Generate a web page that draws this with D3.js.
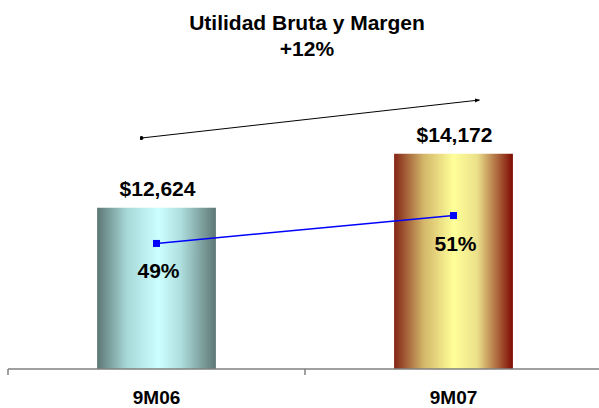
<!DOCTYPE html>
<html>
<head>
<meta charset="utf-8">
<script src="https://cdnjs.cloudflare.com/ajax/libs/d3/7.8.5/d3.min.js"></script>
<style>
  body { margin: 0; background: #fff; }
  text { font-family: Arial, "Liberation Sans", sans-serif; font-weight: bold; fill: #000; }
</style>
</head>
<body>
<script>
// chart data
var categories = ["9M06", "9M07"];
var utilidad = [12624, 14172];
var margen = [49, 51];
var valueLabels = ["$12,624", "$14,172"];
var margenLabels = ["49%", "51%"];
var titleLines = ["Utilidad Bruta y Margen", "+12%"];

var width = 599, height = 408;

var svg = d3.select("body").append("svg")
    .attr("width", width)
    .attr("height", height);

// gradients for the two bars
var defs = svg.append("defs");
var gradStops = [
  [["0%", "#5d7774"], ["25%", "#a6d8d8"], ["52%", "#ccffff"], ["70%", "#b0e0e0"], ["100%", "#5d7774"]],
  [["0%", "#842415"], ["25%", "#d3b76a"], ["50%", "#ffff99"], ["70%", "#ebe08a"], ["100%", "#7e0a02"]]
];
gradStops.forEach(function(stops, i) {
  var g = defs.append("linearGradient")
      .attr("id", "grad" + i)
      .attr("x1", "0%").attr("x2", "100%")
      .attr("y1", "0%").attr("y2", "0%");
  stops.forEach(function(s) {
    g.append("stop").attr("offset", s[0]).attr("stop-color", s[1]);
  });
});

// scales
var x = d3.scaleBand()
    .domain(categories)
    .range([8, 602]);

var y = d3.scaleLinear()
    .domain([8000, 16000])
    .range([369, 90]);

var y2 = d3.scaleLinear()
    .domain([40, 60])
    .range([369, 90]);

var barW = x.bandwidth() * 0.4;
function cx(d) { return x(d) + x.bandwidth() / 2; }

// bars
svg.selectAll(".bar")
    .data(categories)
    .enter().append("rect")
    .attr("class", "bar")
    .attr("x", function(d) { return cx(d) - barW / 2; })
    .attr("width", barW)
    .attr("y", function(d, i) { return y(utilidad[i]); })
    .attr("height", function(d, i) { return y(8000) - y(utilidad[i]); })
    .attr("fill", function(d, i) { return "url(#grad" + i + ")"; });

// value labels above bars
svg.selectAll(".vlabel")
    .data(categories)
    .enter().append("text")
    .attr("class", "vlabel")
    .attr("x", function(d) { return cx(d) + 1; })
    .attr("y", function(d, i) { return y(utilidad[i]) - 12; })
    .attr("text-anchor", "middle")
    .style("font-size", "21px")
    .text(function(d, i) { return valueLabels[i]; });

// x axis
var xAxis = svg.append("g")
    .attr("transform", "translate(0,369)")
    .call(d3.axisBottom(x).tickSize(0).tickFormat(""));
xAxis.select(".domain").attr("stroke", "#808080").attr("stroke-width", 1.5)
    .attr("d", "M8,0H599");
xAxis.selectAll(".bound")
    .data(categories.concat(["end"]))
    .enter().append("line")
    .attr("class", "bound")
    .attr("x1", function(d, i) { return 8 + i * x.bandwidth(); })
    .attr("x2", function(d, i) { return 8 + i * x.bandwidth(); })
    .attr("y1", 0).attr("y2", 6)
    .attr("stroke", "#808080")
    .attr("stroke-width", 1.5);

svg.selectAll(".xlabel")
    .data(categories)
    .enter().append("text")
    .attr("class", "xlabel")
    .attr("x", cx)
    .attr("y", 404)
    .attr("text-anchor", "middle")
    .style("font-size", "19px")
    .text(function(d) { return d; });

// margin line
var line = d3.line()
    .x(function(d, i) { return cx(categories[i]); })
    .y(function(d) { return y2(d); });

svg.append("path")
    .datum(margen)
    .attr("d", line)
    .attr("fill", "none")
    .attr("stroke", "#0000ff")
    .attr("stroke-width", 1.5);

svg.selectAll(".pt")
    .data(margen)
    .enter().append("rect")
    .attr("class", "pt")
    .attr("x", function(d, i) { return cx(categories[i]) - 3.5; })
    .attr("y", function(d) { return y2(d) - 3.5; })
    .attr("width", 7).attr("height", 7)
    .attr("fill", "#0000ff");

svg.selectAll(".mlabel")
    .data(margen)
    .enter().append("text")
    .attr("class", "mlabel")
    .attr("x", function(d, i) { return cx(categories[i]) + 2; })
    .attr("y", function(d) { return y2(d) + 35; })
    .attr("text-anchor", "middle")
    .style("font-size", "21px")
    .text(function(d, i) { return margenLabels[i]; });

// growth arrow
defs.append("marker")
    .attr("id", "arrow")
    .attr("viewBox", "0 0 10 10")
    .attr("refX", 9).attr("refY", 5)
    .attr("markerWidth", 5).attr("markerHeight", 5)
    .attr("orient", "auto")
    .append("path").attr("d", "M0,1L10,5L0,9z").attr("fill", "#000");
defs.append("marker")
    .attr("id", "dot")
    .attr("viewBox", "0 0 10 10")
    .attr("refX", 5).attr("refY", 5)
    .attr("markerWidth", 4).attr("markerHeight", 4)
    .append("circle").attr("cx", 5).attr("cy", 5).attr("r", 5).attr("fill", "#000");

svg.append("line")
    .attr("x1", cx(categories[0]) - 15).attr("y1", 138)
    .attr("x2", cx(categories[1]) + 26).attr("y2", 100)
    .attr("stroke", "#000")
    .attr("stroke-width", 1)
    .attr("marker-start", "url(#dot)")
    .attr("marker-end", "url(#arrow)");

// title
svg.selectAll(".title")
    .data(titleLines)
    .enter().append("text")
    .attr("class", "title")
    .attr("x", 307)
    .attr("y", function(d, i) { return 30 + i * 26; })
    .attr("text-anchor", "middle")
    .style("font-size", "21px")
    .text(function(d) { return d; });
</script>
</body>
</html>
